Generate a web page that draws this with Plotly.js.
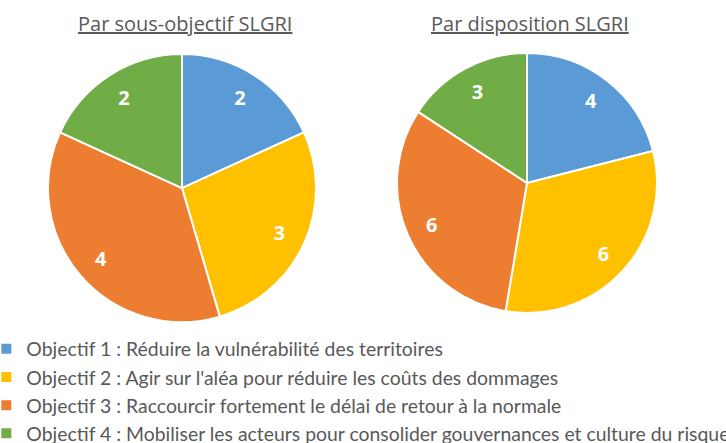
<!DOCTYPE html>
<html>
<head>
<meta charset="utf-8">
<script src="https://cdn.plot.ly/plotly-3.0.1.min.js"></script>
<style>html,body{margin:0;padding:0;background:#fff}#chart{width:726px;height:443px}</style>
</head>
<body>
<div id="chart"></div>
<script>
// Objectives of the SLGRI and counts per objective
const objectifs = [
  "Objectif 1 : Réduire la vulnérabilité des territoires",
  "Objectif 2 : Agir sur l'aléa pour réduire les coûts des dommages",
  "Objectif 3 : Raccourcir fortement le délai de retour à la normale",
  "Objectif 4 : Mobiliser les acteurs pour consolider gouvernances et culture du risque"
];
const parSousObjectif = [2, 3, 4, 2];
const parDisposition = [4, 6, 6, 3];
const couleurs = ["#5B9BD5", "#FFC000", "#ED7D31", "#70AD47"];
const titres = ["Par sous-objectif SLGRI", "Par disposition SLGRI"];

const FONT = "Open Sans, sans-serif";
const LEGEND_FONT = "Lato, Open Sans, sans-serif";

// Filled pie (no text) plus a transparent ring carrying the value labels,
// so the labels sit toward the outer edge of each slice.
function pieFill(values, dx, dy, show) {
  return {
    type: "pie",
    labels: objectifs,
    values: values,
    sort: false,
    direction: "clockwise",
    rotation: 0,
    textinfo: "none",
    marker: {colors: couleurs, line: {color: "#ffffff", width: 2}},
    domain: {x: dx, y: dy},
    showlegend: show,
    hoverinfo: "label+value"
  };
}
function pieText(values, dx, dy) {
  return {
    type: "pie",
    labels: objectifs,
    values: values,
    sort: false,
    direction: "clockwise",
    rotation: 0,
    hole: 0.6,
    textinfo: "value",
    textposition: "inside",
    insidetextorientation: "horizontal",
    textfont: {family: FONT, size: 20, color: "#ffffff", weight: "bold"},
    marker: {colors: ["rgba(0,0,0,0)", "rgba(0,0,0,0)", "rgba(0,0,0,0)", "rgba(0,0,0,0)"], line: {width: 0}},
    domain: {x: dx, y: dy},
    showlegend: false,
    hoverinfo: "skip"
  };
}

const dom1 = [[0.0661, 0.4353], [0.273, 0.878]];
const dom2 = [[0.5468, 0.9050], [0.2935, 0.8804]];

const data = [
  pieFill(parSousObjectif, dom1[0], dom1[1], true),
  pieFill(parDisposition, dom2[0], dom2[1], false),
  pieText(parSousObjectif, dom1[0], dom1[1]),
  pieText(parDisposition, dom2[0], dom2[1])
];

const layout = {
  width: 726,
  height: 443,
  margin: {l: 0, r: 0, t: 0, b: 0, autoexpand: false},
  paper_bgcolor: "#ffffff",
  font: {family: FONT, color: "#595959"},
  showlegend: true,
  legend: {
    x: -0.0188, y: 0.256, xanchor: "left", yanchor: "top",
    orientation: "v",
    traceorder: "normal",
    font: {family: LEGEND_FONT, size: 19.4, color: "#595959"},
    bgcolor: "rgba(0,0,0,0)"
  },
  annotations: [
    {text: titres[0], x: 185 / 726, y: 1 - 23 / 443, xref: "paper", yref: "paper",
     xanchor: "center", yanchor: "middle", showarrow: false,
     font: {family: FONT, size: 20, color: "#595959", lineposition: "under"}},
    {text: titres[1], x: 530 / 726, y: 1 - 23 / 443, xref: "paper", yref: "paper",
     xanchor: "center", yanchor: "middle", showarrow: false,
     font: {family: FONT, size: 20, color: "#595959", lineposition: "under"}}
  ]
};

Plotly.newPlot("chart", data, layout, {displayModeBar: false, staticPlot: true});
</script>
</body>
</html>
